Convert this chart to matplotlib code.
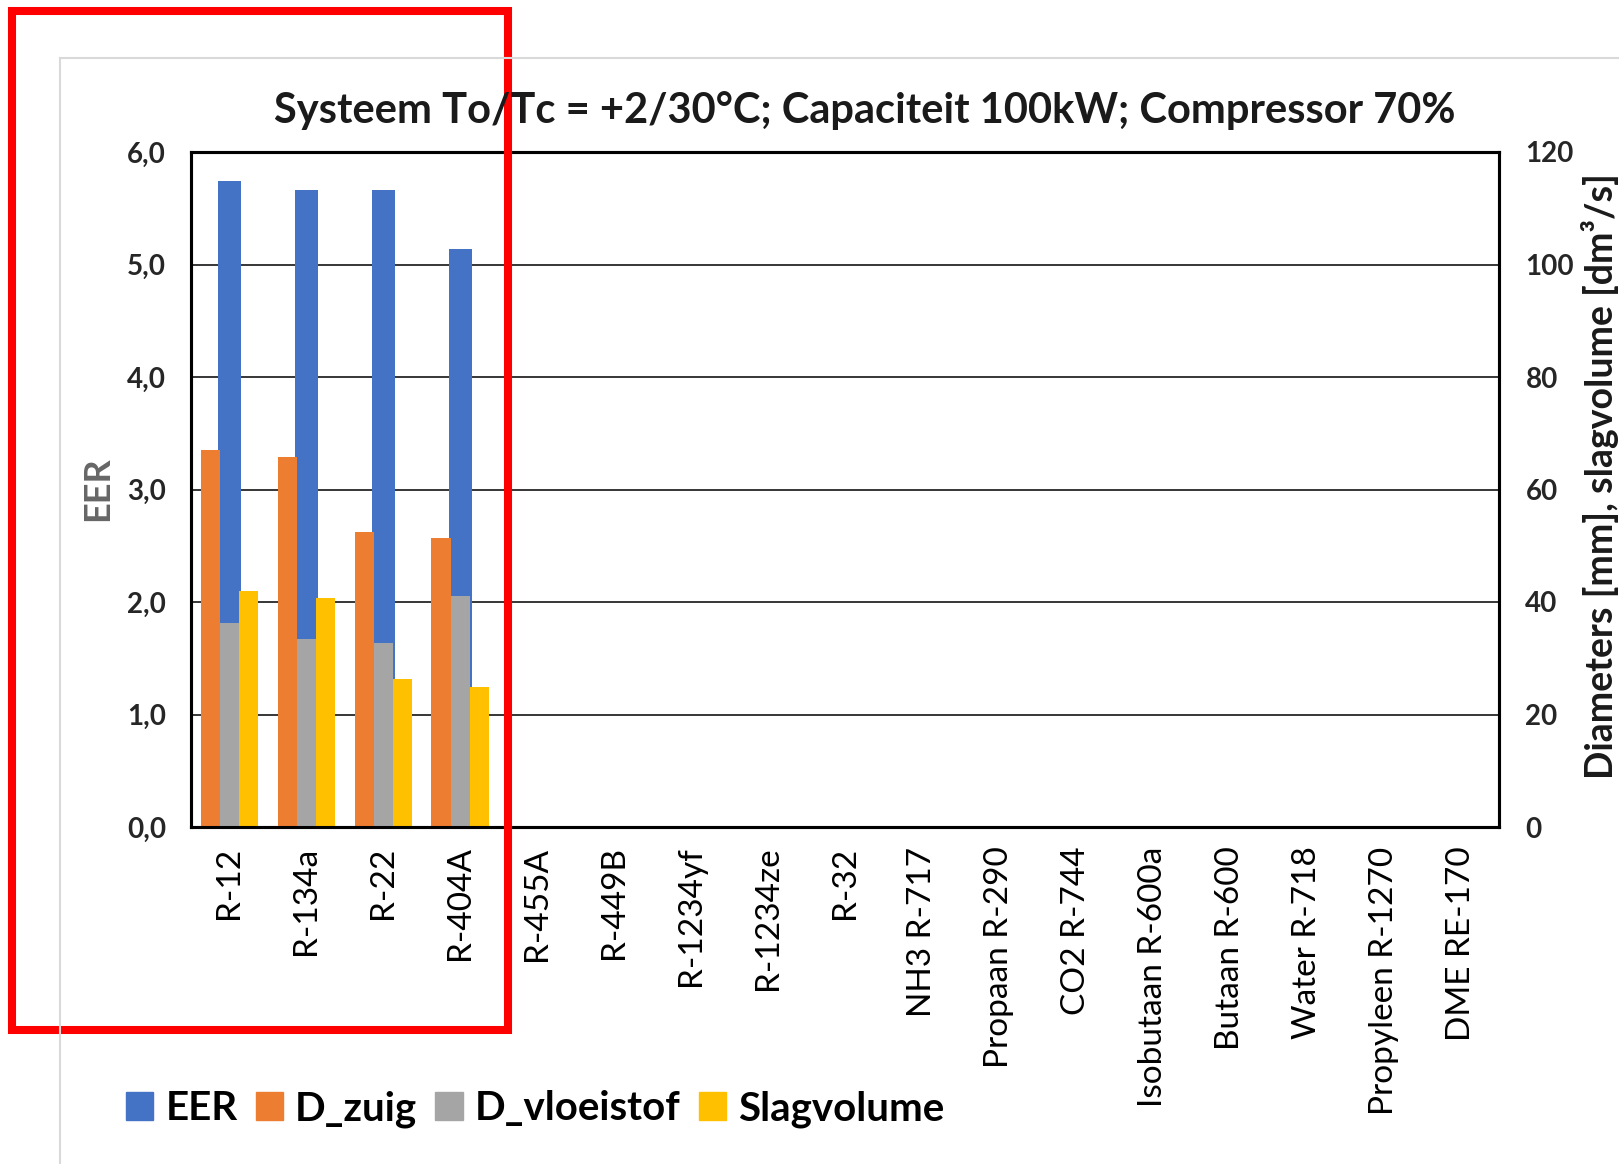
import numpy as np
import matplotlib
matplotlib.use('Agg')
import matplotlib.pyplot as plt
from matplotlib.patches import Patch, Rectangle
from matplotlib.lines import Line2D

# categories (refrigerants) on the x axis
categories = ['R-12', 'R-134a', 'R-22', 'R-404A', 'R-455A', 'R-449B', 'R-1234yf',
              'R-1234ze', 'R-32', 'NH3 R-717', 'Propaan R-290', 'CO2 R-744',
              'Isobutaan R-600a', 'Butaan R-600', 'Water R-718', 'Propyleen R-1270',
              'DME RE-170']

# only the first four refrigerants have values
eer = [5.74, 5.66, 5.66, 5.14]
d_zuig = [67.0, 65.8, 52.4, 51.3]
d_vloeistof = [36.3, 33.5, 32.8, 41.0]
slagvolume = [42.0, 40.7, 26.3, 24.9]

leftTicks = [0, 1, 2, 3, 4, 5, 6]
rightTicks = [0, 20, 40, 60, 80, 100, 120]

blue = '#4472C4'
orange = '#ED7D31'
grey = '#A5A5A5'
yellow = '#FFC000'

plt.rcParams['font.family'] = ['Lato', 'DejaVu Sans']

W, H = 1619, 1164
fig = plt.figure(figsize=(W/100, H/100), dpi=100)

#chart area border (light grey) and the red highlight box
fig.add_artist(Line2D([60/W, 60/W], [0, 1 - 58/H], color='#D9D9D9', lw=1.5, transform=fig.transFigure))
fig.add_artist(Line2D([60/W, 1], [1 - 58/H, 1 - 58/H], color='#D9D9D9', lw=1.5, transform=fig.transFigure))

ax = fig.add_axes([191/W, 1 - 827/H, (1499 - 191)/W, (827 - 152)/H])
ax2 = ax.twinx()

x = np.arange(len(categories))
n = len(eer)
bw = 0.25

#primary axis: EER in the middle, behind the other bars
ax.bar(x[:n], eer, width=0.3, color=blue, zorder=2)
ax.set_ylim(0, 6)
ax.set_yticks(leftTicks)
ax.set_yticklabels([('%.1f' % v).replace('.', ',') for v in leftTicks])
ax.yaxis.grid(True, color='black', linewidth=1.1, zorder=0)
ax.set_axisbelow(True)

#secondary axis: diameters and slagvolume
ax2.bar(x[:n] - bw, d_zuig, width=bw, color=orange)
ax2.bar(x[:n], d_vloeistof, width=bw, color=grey)
ax2.bar(x[:n] + bw, slagvolume, width=bw, color=yellow)
ax2.set_ylim(0, 120)
ax2.set_yticks(rightTicks)
ax2.set_yticklabels([str(v) for v in rightTicks])

ax.set_xlim(-0.5, len(categories) - 0.5)
ax.set_xticks(x)
ax.set_xticklabels(categories, rotation=90, fontsize=24, color='black')

for a in (ax, ax2):
	for s in a.spines.values():
		s.set_linewidth(2.2)
		s.set_color('black')
	a.tick_params(length=0)

ax.tick_params(axis='x', pad=14)
ax.tick_params(axis='y', pad=18, labelsize=20, labelcolor='#262626')
ax2.tick_params(axis='y', pad=19, labelsize=20, labelcolor='#262626')
for lbl in ax.get_yticklabels() + ax2.get_yticklabels():
	lbl.set_fontweight('bold')

fig.text(98/W, 1 - 489/H, 'EER', rotation=90, ha='center', va='center',
		 fontsize=26, fontweight='bold', color='#666666')
fig.text(1600/W, 1 - 476/H, 'Diameters [mm], slagvolume [dm³/s]', rotation=90,
		 ha='center', va='center', fontsize=27, fontweight='bold', color='#1a1a1a')

fig.text(865/W, 1 - 111/H, 'Systeem To/Tc = +2/30°C; Capaciteit 100kW; Compressor 70%',
		 ha='center', va='center', fontsize=30, fontweight='bold', color='#1a1a1a')

handles = [Patch(color=blue), Patch(color=orange), Patch(color=grey), Patch(color=yellow)]
fig.legend(handles, ['EER', 'D_zuig', 'D_vloeistof', 'Slagvolume'], loc='center left',
		   bbox_to_anchor=(126/W, 1 - 1109/H), ncol=4, frameon=False, borderpad=0,
		   borderaxespad=0, handlelength=0.68, handleheight=0.68, handletextpad=0.3,
		   columnspacing=0.45, prop={'size': 29, 'weight': 'bold'})

fig.add_artist(Rectangle((12/W, 1 - 1030/H), (508 - 12)/W, (1030 - 11)/H, fill=False,
						 edgecolor='#FF0000', linewidth=5.8, transform=fig.transFigure))

fig.savefig('out.png', dpi=100)
